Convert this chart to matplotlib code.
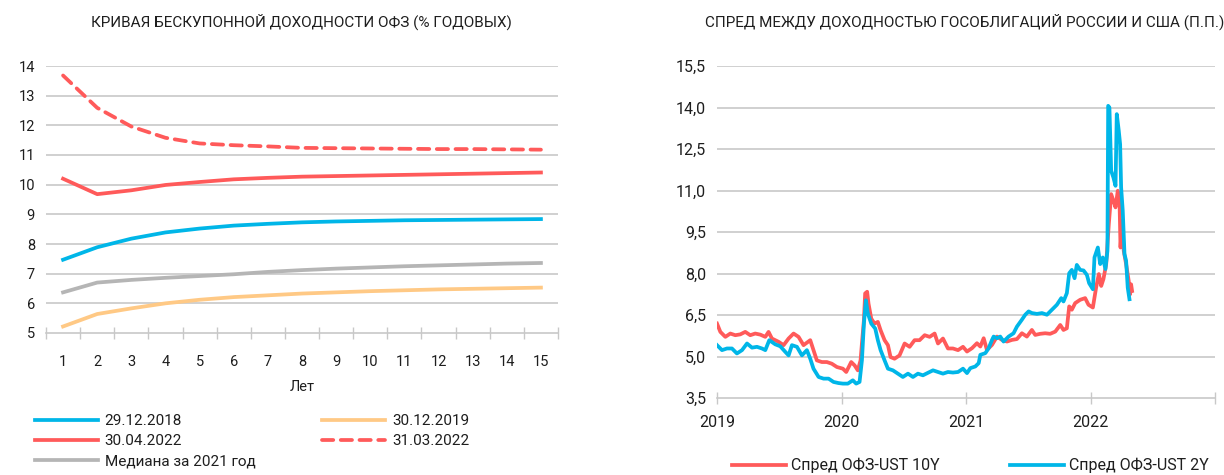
import numpy as np
import matplotlib.pyplot as plt
from matplotlib.ticker import FixedLocator, FuncFormatter

plt.rcParams['font.family'] = ['Roboto', 'DejaVu Sans']

TXT = '#1e1e1e'
GRID = '#c8c8c8'
BLUE = '#00b6e8'
RED = '#ff5a5a'
PEACH = '#ffc985'
GREY = '#b5b5b5'

# left chart: zero-coupon OFZ yield curve, by maturity (years)
maturity = list(range(1, 16))
curve_2018 = [7.47, 7.89, 8.18, 8.39, 8.52, 8.62, 8.68, 8.73, 8.76, 8.78, 8.80, 8.81, 8.82, 8.83, 8.84]
curve_2019 = [5.22, 5.64, 5.83, 6.00, 6.12, 6.21, 6.27, 6.33, 6.37, 6.41, 6.44, 6.47, 6.49, 6.51, 6.53]
curve_apr22 = [10.20, 9.68, 9.81, 9.99, 10.09, 10.18, 10.23, 10.27, 10.29, 10.31, 10.33, 10.35, 10.37, 10.39, 10.41]
curve_mar22 = [13.68, 12.59, 11.96, 11.58, 11.39, 11.33, 11.29, 11.24, 11.23, 11.22, 11.21, 11.20, 11.20, 11.19, 11.18]
curve_med21 = [6.37, 6.70, 6.79, 6.86, 6.92, 6.98, 7.06, 7.12, 7.17, 7.21, 7.25, 7.28, 7.31, 7.34, 7.36]

# right chart: spread OFZ - UST (p.p.), time in decimal years
t_10y = [2019.000, 2019.027, 2019.067, 2019.107, 2019.147, 2019.187, 2019.227, 2019.267, 2019.307, 2019.348,
         2019.388, 2019.414, 2019.441, 2019.495, 2019.535, 2019.575, 2019.615, 2019.655, 2019.695, 2019.749,
         2019.775, 2019.802, 2019.842, 2019.882, 2019.922, 2019.963,
         2020.011, 2020.038, 2020.078, 2020.105, 2020.131, 2020.153, 2020.164, 2020.180, 2020.190, 2020.206,
         2020.217, 2020.239, 2020.265, 2020.292, 2020.314, 2020.346, 2020.373, 2020.394, 2020.426, 2020.466,
         2020.507, 2020.547, 2020.587, 2020.627, 2020.668, 2020.708, 2020.748, 2020.775, 2020.815, 2020.855,
         2020.895, 2020.936, 2020.976,
         2021.008, 2021.048, 2021.088, 2021.115, 2021.142, 2021.168, 2021.209, 2021.249, 2021.289, 2021.329,
         2021.369, 2021.409, 2021.449, 2021.489, 2021.529, 2021.556, 2021.596, 2021.636, 2021.676, 2021.717,
         2021.757, 2021.783, 2021.810, 2021.829, 2021.850, 2021.877, 2021.917, 2021.957, 2021.984,
         2022.019, 2022.045, 2022.067, 2022.086, 2022.104, 2022.126, 2022.147, 2022.166, 2022.184, 2022.201,
         2022.219, 2022.233, 2022.241, 2022.254, 2022.267, 2022.286, 2022.307, 2022.318, 2022.326, 2022.334]
spread_10y = [6.19, 5.89, 5.71, 5.83, 5.77, 5.80, 5.89, 5.77, 5.83, 5.79,
              5.71, 5.89, 5.65, 5.53, 5.41, 5.65, 5.83, 5.71, 5.41, 5.59,
              5.23, 4.86, 4.80, 4.80, 4.74, 4.62,
              4.56, 4.44, 4.80, 4.68, 4.50, 4.86, 5.47, 6.31, 7.28, 7.34,
              6.91, 6.37, 6.19, 6.25, 5.95, 5.59, 5.41, 4.98, 4.92, 5.04,
              5.47, 5.35, 5.59, 5.59, 5.77, 5.71, 5.83, 5.47, 5.65, 5.29,
              5.29, 5.23, 5.35,
              5.18, 5.30, 5.48, 5.36, 5.66, 5.24, 5.42, 5.72, 5.60, 5.54,
              5.60, 5.63, 5.84, 5.72, 5.96, 5.78, 5.82, 5.84, 5.82, 5.90,
              6.14, 5.96, 6.02, 6.81, 6.69, 6.93, 7.05, 7.11, 6.87,
              6.77, 7.49, 7.98, 7.55, 7.80, 8.34, 9.78, 10.87, 10.63, 10.39,
              10.99, 10.63, 8.94, 9.90, 8.82, 8.34, 7.73, 7.25, 7.61, 7.37]

t_2y = [2019.000, 2019.040, 2019.080, 2019.120, 2019.160, 2019.201, 2019.241, 2019.281, 2019.321, 2019.361,
        2019.388, 2019.420, 2019.468, 2019.508, 2019.548, 2019.575, 2019.602, 2019.642, 2019.682, 2019.722,
        2019.749, 2019.775, 2019.816, 2019.856, 2019.896, 2019.936, 2019.976,
        2020.011, 2020.051, 2020.091, 2020.118, 2020.145, 2020.164, 2020.180, 2020.196, 2020.212, 2020.239,
        2020.271, 2020.292, 2020.314, 2020.346, 2020.373, 2020.413, 2020.453, 2020.493, 2020.534, 2020.574,
        2020.614, 2020.654, 2020.694, 2020.735, 2020.775, 2020.815, 2020.855, 2020.895, 2020.936, 2020.976,
        2021.008, 2021.035, 2021.075, 2021.102, 2021.115, 2021.155, 2021.182, 2021.209, 2021.222, 2021.249,
        2021.275, 2021.302, 2021.342, 2021.382, 2021.409, 2021.449, 2021.476, 2021.503, 2021.529, 2021.570,
        2021.610, 2021.650, 2021.690, 2021.730, 2021.765, 2021.783, 2021.810, 2021.829, 2021.850, 2021.872,
        2021.890, 2021.917, 2021.944, 2021.971, 2021.989,
        2022.019, 2022.032, 2022.059, 2022.078, 2022.099, 2022.120, 2022.136, 2022.142, 2022.152, 2022.166,
        2022.184, 2022.201, 2022.211, 2022.227, 2022.238, 2022.246, 2022.259, 2022.273, 2022.286, 2022.299,
        2022.313]
spread_2y = [5.41, 5.23, 5.29, 5.29, 5.11, 5.23, 5.47, 5.32, 5.35, 5.29,
             5.23, 5.59, 5.44, 5.37, 5.17, 5.04, 5.41, 5.35, 5.04, 5.23,
             4.92, 4.56, 4.26, 4.20, 4.20, 4.08, 4.04,
             4.02, 4.02, 4.14, 4.02, 4.08, 4.86, 6.19, 7.03, 6.55, 6.19,
             6.01, 5.59, 5.23, 4.86, 4.56, 4.50, 4.38, 4.26, 4.38, 4.26,
             4.38, 4.32, 4.41, 4.50, 4.44, 4.38, 4.44, 4.42, 4.44, 4.56,
             4.40, 4.58, 4.64, 4.76, 5.06, 5.12, 5.30, 5.60, 5.72, 5.66,
             5.72, 5.54, 5.72, 5.84, 6.08, 6.33, 6.51, 6.63, 6.57, 6.54,
             6.57, 6.51, 6.69, 6.87, 7.11, 6.99, 7.29, 8.01, 8.13, 7.83,
             8.31, 8.13, 8.11, 7.95, 7.65,
             7.43, 8.58, 8.94, 8.34, 8.58, 8.16, 8.82, 14.06, 14.00, 11.71,
             11.47, 11.17, 13.76, 13.16, 12.67, 11.11, 10.27, 8.70, 8.46, 7.49,
             7.07]

year_ticks = [2019, 2020, 2021, 2022, 2023]
year_labels = ['2019', '2020', '2021', '2022', '']
spread_ticks = [3.5, 5.0, 6.5, 8.0, 9.5, 11.0, 12.5, 14.0, 15.5]

fig = plt.figure(figsize=(12.24, 4.75), dpi=100)

# ---- left chart
ax1 = fig.add_axes([46 / 1224, 1 - 333 / 475, 512 / 1224, 267 / 475])
lw = 2.7
ax1.plot(maturity, curve_2018, color=BLUE, lw=lw, label='29.12.2018')
ax1.plot(maturity, curve_apr22, color=RED, lw=lw, label='30.04.2022')
ax1.plot(maturity, curve_med21, color=GREY, lw=lw, label='Медиана за 2021 год')
ax1.plot(maturity, curve_2019, color=PEACH, lw=lw, label='30.12.2019')
ax1.plot(maturity, curve_mar22, color=RED, lw=lw, ls=(0, (3.0, 2.0)), dash_capstyle='round',
         label='31.03.2022')

ax1.set_xlim(0.5, 15.5)
ax1.set_ylim(5, 14)
ax1.set_yticks(range(5, 15))
ax1.set_xticks(maturity)
ax1.xaxis.set_minor_locator(FixedLocator(np.arange(0.5, 16, 1)))
ax1.tick_params(axis='x', which='major', length=0, pad=16, labelsize=10.5, colors=TXT)
ax1.tick_params(axis='x', which='minor', length=9, width=1, color=GRID, direction='inout')
ax1.tick_params(axis='y', length=0, pad=8, labelsize=10.5, colors=TXT)
for s in ['top', 'right', 'left']:
    ax1.spines[s].set_visible(False)
ax1.spines['bottom'].set_color(GRID)
ax1.spines['bottom'].set_linewidth(1.2)
for v in range(6, 15):
    ax1.axhline(v, color=GRID, lw=1.2, zorder=0)
ax1.set_xlabel('Лет', fontsize=10.5, color=TXT, labelpad=8)
fig.text(301 / 1224, 1 - 22 / 475, 'КРИВАЯ БЕСКУПОННОЙ ДОХОДНОСТИ ОФЗ (% ГОДОВЫХ)',
         fontsize=11, color=TXT, ha='center', va='center')

fig.legend(*ax1.get_legend_handles_labels(), loc='upper left', bbox_to_anchor=(35 / 1224, 1 - 414 / 475),
           ncol=2, frameon=False, fontsize=11, handlelength=4.1, handletextpad=0.45,
           labelspacing=0.4, columnspacing=4.4, borderpad=0, borderaxespad=0, labelcolor=TXT)

# ---- right chart
ax2 = fig.add_axes([717 / 1224, 1 - 398 / 475, 498 / 1224, 332 / 475])
ax2.plot(t_10y, spread_10y, color=RED, lw=lw, label='Спред ОФЗ-UST 10Y')
ax2.plot(t_2y, spread_2y, color=BLUE, lw=lw, label='Спред ОФЗ-UST 2Y')
ax2.set_xlim(2019, 2023)
ax2.set_ylim(3.5, 15.5)
ax2.set_yticks(spread_ticks)
ax2.yaxis.set_major_formatter(FuncFormatter(lambda v, p: f'{v:.1f}'.replace('.', ',')))
ax2.set_xticks(year_ticks)
ax2.set_xticklabels(year_labels)
ax2.tick_params(axis='x', length=9, width=1, direction='inout', pad=8, labelsize=11.5, colors=GRID,
                labelcolor=TXT)
ax2.tick_params(axis='y', length=0, pad=8, labelsize=11.5, colors=TXT)
for s in ['top', 'right', 'left']:
    ax2.spines[s].set_visible(False)
ax2.spines['bottom'].set_color(GRID)
ax2.spines['bottom'].set_linewidth(1.2)
for v in spread_ticks[1:]:
    ax2.axhline(v, color=GRID, lw=1.2, zorder=0)
fig.text(965 / 1224, 1 - 22 / 475, 'СПРЕД МЕЖДУ ДОХОДНОСТЬЮ ГОСОБЛИГАЦИЙ РОССИИ И США (П.П.)',
         fontsize=11, color=TXT, ha='center', va='center')

fig.legend(*ax2.get_legend_handles_labels(), loc='upper left', bbox_to_anchor=(732 / 1224, 1 - 458 / 475),
           ncol=2, frameon=False, fontsize=11.5, handlelength=3.4, handletextpad=0.3,
           columnspacing=4.4, borderpad=0, borderaxespad=0, labelcolor=TXT)

fig.savefig('out.png', dpi=100, facecolor='white')
